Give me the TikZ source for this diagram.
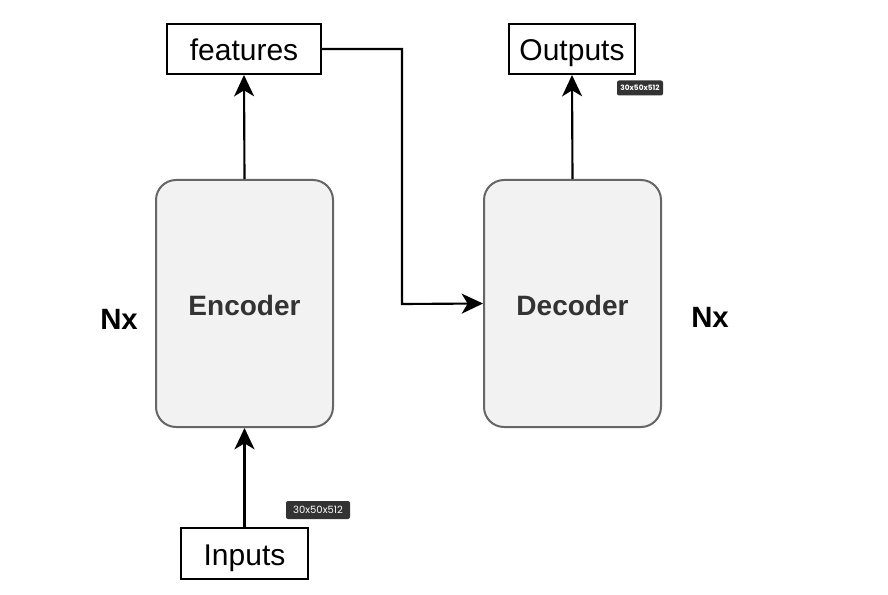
\documentclass[tikz,border=0pt]{standalone}
\usepackage{fontspec}
\setmainfont{Liberation Sans}
\newfontfamily\tagfont{Poppins}
\usetikzlibrary{arrows.meta}
\definecolor{boxfill}{HTML}{F2F2F2}
\definecolor{boxline}{HTML}{666666}
\definecolor{boxtext}{HTML}{333333}
\definecolor{tagbg}{HTML}{333333}
\begin{document}
\begin{tikzpicture}[x=0.75pt,y=-0.75pt,
  plainbox/.style={draw=black,line width=1.5pt,fill=white,inner sep=0pt,text height=17.5pt,text depth=0pt,font=\fontsize{22.5}{24}\selectfont},
  blockbox/.style={draw=boxline,line width=1.5pt,fill=boxfill,rounded corners=15pt,inner sep=0pt,text height=18pt,text depth=0pt,
    minimum width=177*0.75pt,minimum height=247*0.75pt,text=boxtext,font=\fontsize{21}{22}\selectfont\bfseries},
  nxlabel/.style={font=\fontsize{22}{24}\selectfont\bfseries},
  tagbox/.style={fill=tagbg,text=white,rounded corners=1.5pt,inner sep=0pt},
  conn/.style={line width=1.6pt,-{Stealth[length=16pt,width=15pt,inset=4.5pt]}}
]
\useasboundingbox (0,0) rectangle (888,595);
\node[plainbox,minimum width=154*0.75pt,minimum height=50*0.75pt] (feat) at (244,49) {features};
\node[plainbox,minimum width=126*0.75pt,minimum height=50*0.75pt] (out) at (572,49) {Outputs};
\node[plainbox,minimum width=127*0.75pt,minimum height=51*0.75pt] (in) at (244.5,553.5) {Inputs};
\node[blockbox] (enc) at (244.5,303.5) {Encoder};
\node[blockbox] (dec) at (572.5,303.5) {Decoder};
\node[nxlabel] (nx1) at (119,319) {Nx};
\node[nxlabel] (nx2) at (710,317) {Nx};
\node[tagbox,minimum width=46*0.75pt,minimum height=15*0.75pt,font=\tagfont\fontsize{5.5}{6}\selectfont\bfseries] (tag1) at (640,88) {30x50x512};
\node[tagbox,minimum width=64*0.75pt,minimum height=18*0.75pt,font=\tagfont\fontsize{7.5}{8}\selectfont] (tag2) at (318,510) {30x50x512};
\coordinate (bend1) at (402,49);
\coordinate (bend2) at (402,304);
\draw[conn] (in.north) -- (enc.south);
\draw[conn] (enc.north) -- (feat.south);
\draw[conn] (feat.east) -- (bend1) -- (bend2) -- (dec.west);
\draw[conn] (dec.north) -- (out.south);
\end{tikzpicture}
\end{document}
